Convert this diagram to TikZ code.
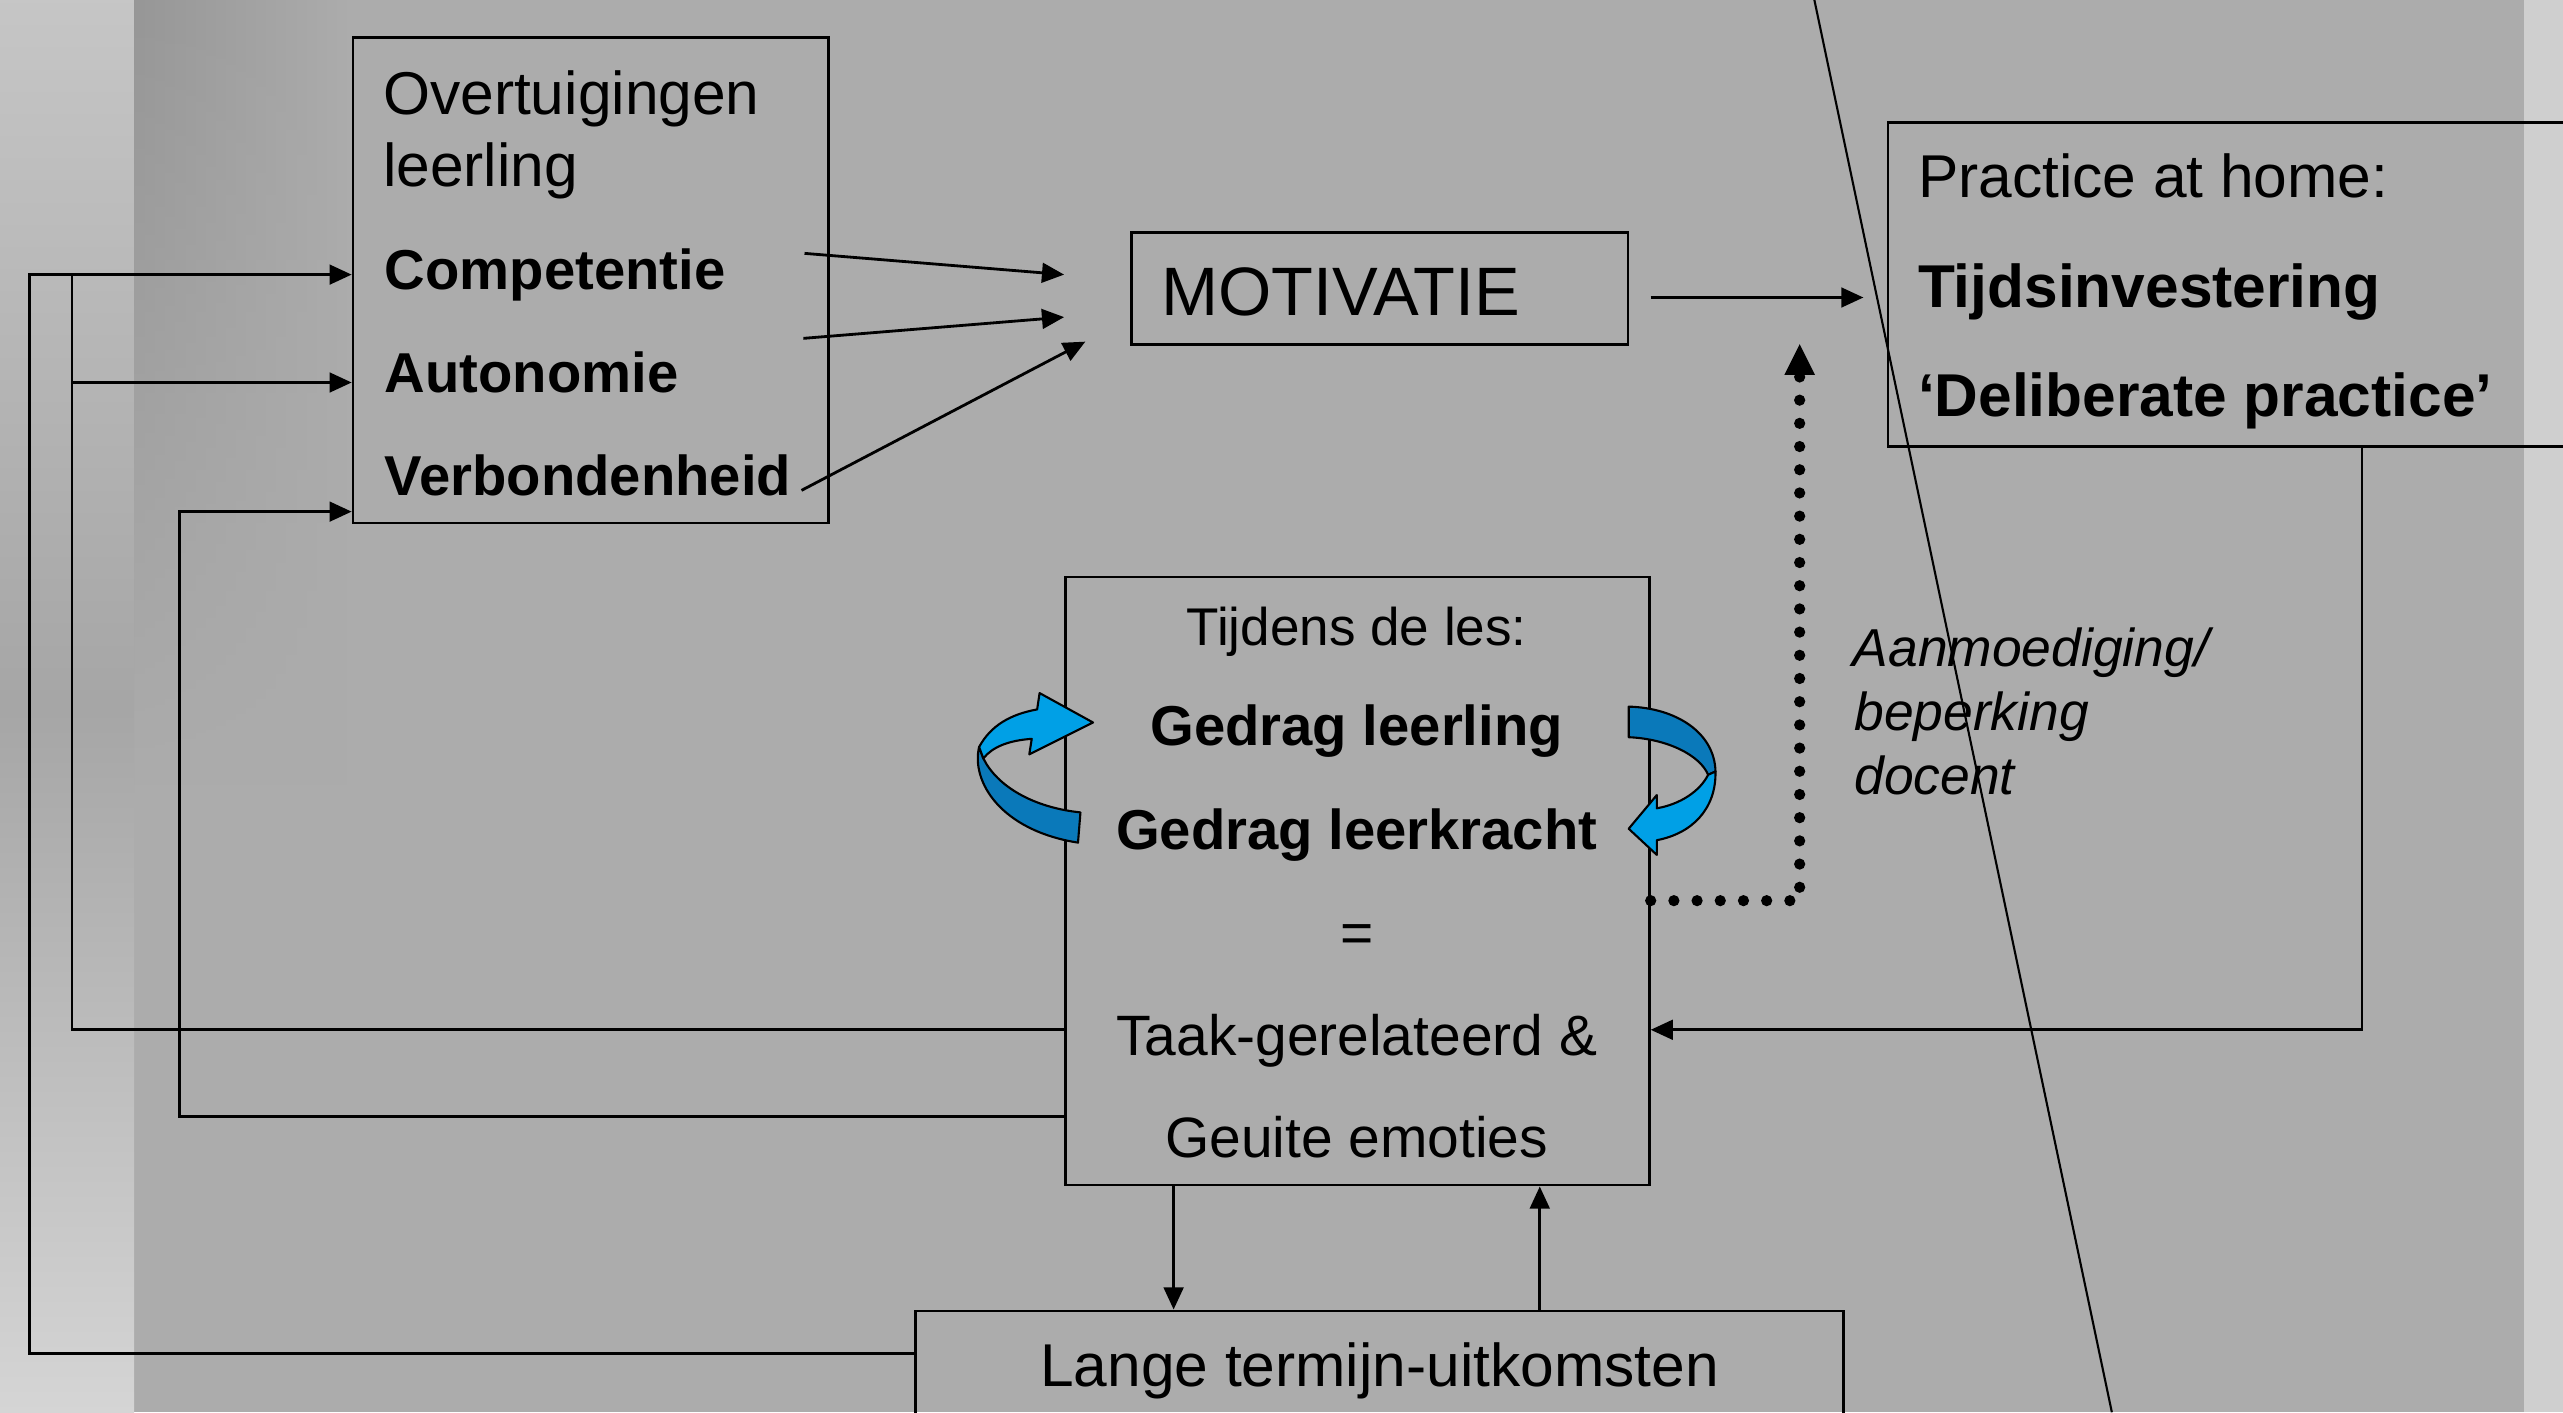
\documentclass[tikz,border=0pt]{standalone}
\usepackage{fontspec}
\setmainfont{Liberation Sans}
\usetikzlibrary{arrows.meta,positioning,fadings}

\newcommand{\pxu}{0.16346mm}
\definecolor{achtergrond}{HTML}{ACACAC}
\definecolor{lichtblauw}{HTML}{00A0E6}
\definecolor{donkerblauw}{HTML}{0A79BA}

\begin{document}
\begin{tikzpicture}[x=\pxu, y=-\pxu,
    kader/.style={draw, line width=0.8pt, inner sep=0pt},
    pijl/.style={line width=0.8pt, -{Triangle[length=6.3pt,width=5.6pt]}},
    lijn/.style={line width=0.8pt},
    stippel/.style={line width=3.2pt, line cap=round, dash pattern=on 0pt off 6.6pt,
      -{Triangle[length=9pt,width=8pt]}},
    gewoon/.style={inner sep=0pt, font=\fontsize{17.2}{20}\selectfont},
    vet/.style={inner sep=0pt, font=\fontsize{16}{19}\selectfont\bfseries},
    grootvet/.style={inner sep=0pt, font=\fontsize{17.2}{20}\selectfont\bfseries},
    klein/.style={inner sep=0pt, font=\fontsize{16.2}{19}\selectfont},
    cursief/.style={inner sep=0pt, font=\fontsize{15.2}{18}\selectfont\itshape},
    lus/.style={draw=black, line width=0.6pt, line join=round}]
  \clip (0,0) rectangle (1568,864);
  % achtergrond
  \fill[achtergrond] (0,0) rectangle (1568,864);
  \shade[top color=gray!45, bottom color=gray!33, middle color=gray!70] (0,0) rectangle (82,864);
  \shade[left color=gray!82, right color=achtergrond, path fading=south] (82,0) rectangle (215,480);
  \fill[gray!38] (1544,0) rectangle (1568,864);
  \draw[line width=0.6pt] (1110,0) -- (1292,864);

  % kaders
  \node[kader, minimum width=291*\pxu, minimum height=297*\pxu] (ovt) at (361.5,171.5) {};
  \node[kader, minimum width=304*\pxu, minimum height=69*\pxu] (mot) at (844,176.5) {};
  \node[kader, minimum width=425*\pxu, minimum height=198*\pxu] (prac) at (1367.5,174) {};
  \node[kader, minimum width=357*\pxu, minimum height=372*\pxu] (les) at (830.5,539) {};
  \node[kader, minimum width=568*\pxu, minimum height=78*\pxu] (lange) at (844,841) {};

  % teksten
  \node[gewoon, anchor=base west] (ovt1) at (234,70) {Overtuigingen};
  \node[gewoon, anchor=base west] (ovt2) at (234,114) {leerling};
  \node[vet, anchor=base west] (comp) at (235,177) {Competentie};
  \node[vet, anchor=base west] (auto) at (235,240) {Autonomie};
  \node[vet, anchor=base west] (verb) at (235,303) {Verbondenheid};
  \node[inner sep=0pt, font=\fontsize{19.5}{22}\selectfont, anchor=base west] (motT) at (710,193) {MOTIVATIE};
  \node[gewoon, anchor=base west] (prac1) at (1173,121) {Practice at home:};
  \node[grootvet, anchor=base west] (prac2) at (1173,188) {Tijdsinvestering};
  \node[grootvet, anchor=base west] (prac3) at (1173,255) {‘Deliberate practice’};
  \node[inner sep=0pt, font=\fontsize{15.1}{18}\selectfont, anchor=base] (les1) at (830,395) {Tijdens de les:};
  \node[vet, anchor=base] (les2) at (830,456) {Gedrag leerling};
  \node[vet, anchor=base] (les3) at (830,520) {Gedrag leerkracht};
  \node[klein, anchor=base] (les4) at (830,583) {=};
  \node[klein, anchor=base] (les5) at (830,646) {Taak-gerelateerd \&};
  \node[klein, anchor=base] (les6) at (830,708) {Geuite emoties};
  \node[gewoon, anchor=base] (langeT) at (844,848) {Lange termijn-uitkomsten};
  \node[cursief, anchor=base west] (aan1) at (1133,408) {Aanmoediging/};
  \node[cursief, anchor=base west] (aan2) at (1134,447) {beperking};
  \node[cursief, anchor=base west] (aan3) at (1134,486) {docent};

  % pijlen naar motivatie
  \coordinate (m1) at (651,168);
  \coordinate (m2) at (651,194);
  \coordinate (m3) at (664,209);
  \draw[pijl] (comp.east |- 0,155) ++(48,0) -- (m1);
  \draw[pijl] (auto.east |- 0,207) ++(76,0) -- (m2);
  \draw[pijl] (verb.east |- 0,300) ++(6,0) -- (m3);
  \coordinate (mp) at (1140,182);
  \draw[pijl] (mot.east |- mp) ++(13,0) -- (mp);

  % terugkoppeling
  \draw[pijl] (lange.west |- 0,828) -| (18,168) -- (ovt.west |- 0,168);
  \draw[lijn] (les.west |- 0,630) -| (44,168);
  \draw[pijl] (44,234) -- (ovt.west |- 0,234);
  \draw[pijl] (les.west |- 0,683) -| (110,313) -- (ovt.west |- 0,313);
  \draw[pijl] (prac.south -| 1445,0) |- (les.east |- 0,630);
  \draw[pijl] (les.south -| 718,0) -- (lange.north -| 718,0);
  \draw[pijl] (lange.north -| 942,0) -- (les.south -| 942,0);
  \coordinate (st) at (1101,210);
  \draw[stippel] (les.east |- 0,551) -| (st);

  % blauwe lussen
  \fill[donkerblauw, lus] (599,457) .. controls (594,478) and (612,508) .. (659.5,515.5)
    -- (661,497) .. controls (632,494) and (610,481) .. (601.6,464) -- cycle;
  \fill[lichtblauw, lus] (599,457) .. controls (606,444) and (618,437) .. (634.5,434)
    -- (636,424) -- (668.7,442) -- (629.7,461.5) -- (631.2,452)
    .. controls (617,453) and (607,457) .. (601.6,464) -- cycle;
  \fill[donkerblauw, lus] (996.4,432.3) .. controls (1025,433) and (1049,448) .. (1049.5,472)
    -- (1045,474) .. controls (1040,462) and (1020,452) .. (996.4,451) -- cycle;
  \fill[lichtblauw, lus] (1049.5,472) .. controls (1050,495) and (1035,510) .. (1013.6,514)
    -- (1013.6,523) -- (996.4,507) -- (1013.6,486.4) -- (1013.6,494.5)
    .. controls (1028,492) and (1040,484) .. (1045,474) -- cycle;
\end{tikzpicture}
\end{document}
